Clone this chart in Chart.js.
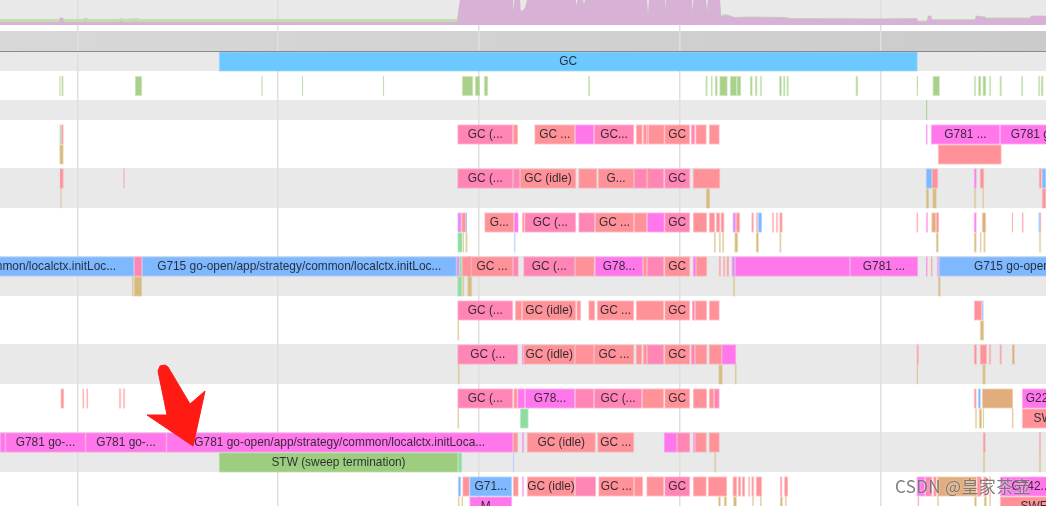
<!DOCTYPE html>
<html>
<head>
<meta charset="utf-8">
<script src="https://cdn.jsdelivr.net/npm/chart.js@4/dist/chart.umd.js"></script>
<style>
  html, body { margin: 0; padding: 0; background: #fff; overflow: hidden; }
  canvas { display: block; filter: blur(0.3px); }
</style>
</head>
<body>
<canvas id="trace" width="1046" height="506"></canvas>
<script>
// time axis reference lines
const gridTimes = [77.5, 278, 478.7, 680, 881];

// goroutine counter at the top of the trace
const counterTimes = [0, 59, 60, 63, 64, 83, 84, 87, 88, 119, 121, 124, 126, 137, 139, 457, 458.5, 460, 513, 513.5, 514.5, 520, 520.5, 522, 525, 527, 575.5, 576.5, 577.5, 583, 584, 585, 647, 648, 649, 665, 665.5, 666, 692, 692.5, 693.5, 706, 707, 708, 720, 721, 726, 735, 750, 785, 790, 880, 917, 918, 927, 928, 931, 932, 975, 976, 985, 986, 1030, 1031, 1046];
const counterRunning = [3, 3, 7, 7, 3, 3, 3.5, 3.5, 3, 3, 4, 3, 3, 3.5, 3, 3, 15, 25, 25, 13, 25, 25, 15, 14, 17, 25, 25, 20, 25, 25, 20, 25, 25, 9, 25, 25, 15, 25, 25, 13, 25, 25, 13, 25, 25, 9, 10, 7.5, 8, 7.5, 6.5, 6, 6.5, 3.5, 3.5, 9, 9, 5, 5, 9, 8, 6.7, 6.7, 9, 9];
const counterRunnable = [6, 6, 7.5, 7.5, 6, 6, 7, 7, 6, 6, 7, 6, 6, 7, 6, 6, 15, 25, 25, 13, 25, 25, 15, 14, 17, 25, 25, 20, 25, 25, 20, 25, 25, 9, 25, 25, 15, 25, 25, 13, 25, 25, 13, 25, 25, 10, 11, 8, 8.5, 8, 7, 6.7, 7, 4.5, 4.5, 9.5, 9.5, 6, 6, 9.5, 8.5, 7.5, 7.5, 9.5, 9.5];

// spans per state: lane, start, end, optional title
const gcPhaseSpans = [['GC', 219, 917.5, 'GC']];

const sweepSpans = [
  ['Sweep', 59.5, 60.5], ['Sweep', 61.5, 63.5], ['Sweep', 135, 142], ['Sweep', 261.5, 262.5], ['Sweep', 302, 303], ['Sweep', 383, 384],
  ['Sweep', 462, 473], ['Sweep', 475, 480], ['Sweep', 484, 488], ['Sweep', 588.3, 590], ['Sweep', 705.5, 707.5], ['Sweep', 711, 712.5],
  ['Sweep', 715, 717.5], ['Sweep', 719.5, 727.5], ['Sweep', 730, 736.7], ['Sweep', 736.7, 741], ['Sweep', 750, 752.5], ['Sweep', 755, 757.3],
  ['Sweep', 760, 762], ['Sweep', 779.3, 781.7], ['Sweep', 783.3, 785.3], ['Sweep', 786.7, 788.7], ['Sweep', 855.7, 858], ['Sweep', 916.7, 918],
  ['Sweep', 932.7, 939.7], ['Sweep', 974, 976], ['Sweep', 978.3, 981], ['Sweep', 982.7, 986], ['Sweep', 989.3, 991], ['Sweep', 999.7, 1001.7],
  ['Sweep', 1021.3, 1023], ['Sweep', 1038.3, 1040], ['Sweep', 1041, 1043.3]
];
const assistSpans = [['Assist', 926, 927.3]];

const gcIdleSpans = [
  ['P0', 61, 63.5], ['P0', 513, 518], ['P0', 534.5, 575, 'GC ...'], ['P0', 636, 642.5], ['P0', 643, 647], ['P0', 648, 664.5], ['P0', 664.5, 690, 'GC'], ['P0', 695.5, 706.5], ['P0', 709, 719.5],
  ['S0', 938, 1001.5],
  ['P1', 60, 63.5], ['P1', 123.5, 124.5], ['P1', 520, 576, 'GC (idle)'], ['P1', 578.5, 597], ['P1', 598, 634, 'G...'], ['P1', 647, 650], ['P1', 693, 720], ['P1', 932, 938], ['P1', 980, 984], ['P1', 1039, 1041.5],
  ['S1', 1042, 1046],
  ['P2', 461.5, 466], ['P2', 484.5, 514, 'G...'], ['P2', 522, 524.5], ['P2', 595, 634, 'GC ...'], ['P2', 634, 647], ['P2', 693, 707], ['P2', 709, 715], ['P2', 716, 720], ['P2', 720.7, 724.3], ['P2', 736, 740], ['P2', 751.5, 753.7], ['P2', 756, 758], ['P2', 772, 774], ['P2', 776, 778], ['P2', 779.5, 782.5], ['P2', 916.5, 918], ['P2', 936, 939], ['P2', 1012, 1013], ['P2', 1022, 1023.5], ['P2', 1040, 1041],
  ['P3', 462, 471], ['P3', 471, 513, 'GC ...'], ['P3', 575, 594.5], ['P3', 643, 647], ['P3', 664.5, 690, 'GC'], ['P3', 696, 707], ['P3', 719, 720.7], ['P3', 723.3, 725], ['P3', 726.7, 729], ['P3', 931, 932.5],
  ['P4', 515, 522], ['P4', 522, 576, 'GC (idle)'], ['P4', 576.5, 581], ['P4', 588.5, 595], ['P4', 597, 634, 'GC ...'], ['P4', 636, 664], ['P4', 664.5, 690, 'GC'], ['P4', 695, 707], ['P4', 709, 719.5], ['P4', 974, 982],
  ['P5', 523.5, 575, 'GC (idle)'], ['P5', 575, 594], ['P5', 594, 634, 'GC ...'], ['P5', 636, 642], ['P5', 643, 647], ['P5', 664.5, 690, 'GC'], ['P5', 695, 707], ['P5', 709, 721.7], ['P5', 916.7, 918.7], ['P5', 974, 976.7], ['P5', 980, 986.7], ['P5', 989, 991], ['P5', 999.7, 1001.7],
  ['P6', 60.7, 64], ['P6', 82.5, 84], ['P6', 86.5, 88], ['P6', 119, 121], ['P6', 123, 125], ['P6', 513.5, 517.5], ['P6', 642, 664], ['P6', 664.5, 690, 'GC'], ['P6', 693, 707], ['P6', 709, 714], ['P6', 974, 976.5], ['S6', 1022, 1082, 'SWE...'],
  ['P7', 513, 518], ['P7', 527, 595.5, 'GC (idle)'], ['P7', 597.5, 634, 'GC ...'], ['P7', 695, 706.5], ['P7', 709, 719.5], ['P7', 983, 985.5], ['P7', 1039, 1041],
  ['P8', 462.5, 469.5], ['P8', 513, 518.5], ['P8', 527, 575, 'GC (idle)'], ['P8', 598.5, 634, 'GC ...'], ['P8', 634, 643], ['P8', 646.5, 664], ['P8', 693, 706.5], ['P8', 708, 727], ['P8', 732.7, 737], ['P8', 738, 741], ['P8', 742, 745], ['P8', 748.3, 750], ['P8', 751.5, 754], ['P8', 756, 762], ['P8', 780, 782.3], ['P8', 784.3, 788], ['P8', 933.3, 936.7], ['P8', 977.3, 981.7], ['P8', 983.3, 986.7], ['P8', 989.3, 990.7],
  ['S8', 917.7, 919], ['S8', 1000, 1078, 'SWE...']
];

const gcMarkSpans = [
  ['P0', 457.5, 513, 'GC (...'], ['P0', 594, 634, 'GC...'], ['P0', 647, 648], ['P0', 691, 695],
  ['P1', 60, 61], ['P1', 457.5, 513, 'GC (...'], ['P1', 513, 520], ['P1', 634, 647], ['P1', 648, 664], ['P1', 664.5, 690, 'GC'],
  ['P2', 524.5, 576, 'GC (...'], ['P2', 578.5, 595], ['P2', 664.5, 690, 'GC'],
  ['P3', 134, 142], ['P3', 513, 518.5], ['P3', 523.5, 575, 'GC (...'], ['P3', 647, 664],
  ['P4', 457.5, 513, 'GC (...'], ['P4', 692, 695],
  ['P5', 457.5, 518, 'GC (...'], ['P5', 647, 664], ['P5', 691, 695],
  ['P6', 457.5, 513, 'GC (...'], ['P6', 575, 594], ['P6', 594, 642, 'GC (...'], ['P6', 714, 719.5],
  ['P7', 677, 690],
  ['P8', 575, 596], ['P8', 664.5, 690, 'GC'], ['P8', 925, 932.3], ['P8', 977.3, 979]
];

const runningSpans = [
  ['P0', 575, 594], ['P0', 926, 927.5], ['P0', 931, 1000, 'G781 ...'], ['P0', 1000, 1124, 'G781 go-open/ap...'],
  ['P1', 974, 976.5],
  ['P2', 514, 518.5], ['P2', 647, 664.5], ['P2', 926, 928], ['P2', 974, 976.5],
  ['P3', 467.5, 471], ['P3', 595, 643, 'G78...'], ['P3', 693, 696], ['P3', 735, 850], ['P3', 850, 918, 'G781 ...'], ['P3', 926, 927.5],
  ['P5', 522, 523.5], ['P5', 721.7, 736],
  ['P6', 517.5, 525], ['P6', 525, 575, 'G78...'], ['P6', 1022, 1062, 'G22...'],
  ['P7', 0, 5.5], ['P7', 5.5, 85.5, 'G781 go-...'], ['P7', 85.5, 166.5, 'G781 go-...'], ['P7', 166.5, 513, 'G781 go-open/app/strategy/common/localctx.initLoca...'], ['P7', 522, 524], ['P7', 664, 677], ['P7', 693, 695],
  ['P8', 522, 524], ['P8', 916.7, 925], ['P8', 1000, 1062, 'G742...'],
  ['S8', 469.5, 512, 'M...']
];

const blockedSpans = [
  ['P1', 926, 932], ['P1', 1042, 1046],
  ['P2', 466, 467], ['P2', 758, 762], ['P2', 1038.5, 1040],
  ['P3', -186, 134, 'G715 go-open/app/strategy/common/localctx.initLoc...'], ['P3', 142, 456.5, 'G715 go-open/app/strategy/common/localctx.initLoc...'], ['P3', 939, 1293, 'G715 go-open/app/strategy/common/localctx.initLoc...'],
  ['P4', 982, 983.5],
  ['P6', 978, 980.7],
  ['P8', 458, 461], ['P8', 469.5, 512, 'G71...']
];

const assistPurpleSpans = [
  ['P2', 457.5, 461.5], ['P2', 732.7, 736],
  ['P3', 456.5, 459.5], ['P3', 731.7, 735], ['P3', 937, 939]
];

const syscallSpans = [
  ['S0', 59.5, 63.5],
  ['S1', 60.5, 61.5], ['S1', 706, 710], ['S1', 926, 929], ['S1', 932.5, 936.5], ['S1', 974, 976], ['S1', 982.5, 983.7],
  ['S2', 463, 464], ['S2', 465.5, 467.5], ['S2', 714, 715.7], ['S2', 719, 720.7], ['S2', 722.3, 724], ['S2', 734.5, 738], ['S2', 756, 758.7], ['S2', 779.5, 781.3], ['S2', 936, 938.5], ['S2', 974, 976.5], ['S2', 980, 981.5], ['S2', 983.5, 985.5], ['S2', 1039, 1041],
  ['S3', 132, 133.5], ['S3', 134, 142], ['S3', 462.5, 464], ['S3', 467.5, 472], ['S3', 733, 735], ['S3', 938, 940.5],
  ['S4', 457.5, 459], ['S4', 980, 984],
  ['S5', 458, 459.5], ['S5', 718.5, 722.5], ['S5', 735, 736.5], ['S5', 916.7, 918], ['S5', 982.5, 985.5],
  ['S6', 457.5, 459], ['S6', 975, 977], ['S6', 979, 982], ['S6', 983, 984], ['S6', 1012, 1013.5],
  ['S7', 714.5, 716], ['S7', 983, 985], ['S7', 1039, 1041],
  ['S8', 458, 459.5], ['S8', 461.5, 463], ['S8', 718.3, 720.7], ['S8', 724, 726.7], ['S8', 733.3, 736.7], ['S8', 752.3, 753.7], ['S8', 760, 761.7], ['S8', 780, 782.7], ['S8', 785, 786.7], ['S8', 937.3, 938.7], ['S8', 974.3, 976.7], ['S8', 984, 986.7], ['S8', 989.3, 990.7]
];

const netBlockSpans = [
  ['P2', 982, 986], ['P2', 931.5, 936],
  ['P5', 1012, 1014.7],
  ['P6', 982, 1013],
  ['P8', 937.3, 976.7]
];

const stwSpans = [['S7', 219, 458, 'STW (sweep termination)']];

const gcWorkerSpans = [
  ['P0', 59.5, 61],
  ['S2', 457.5, 462.5],
  ['P3', 459.5, 462], ['S3', 457.5, 462],
  ['S6', 520, 528.5],
  ['S7', 458, 462]
];

const paleBlueSpans = [['S2', 514, 515.5], ['S7', 513, 514]];

const arrowOutline = [[158, 371], [160, 366], [165, 365], [168, 367], [190, 404], [205, 391], [193, 446], [147, 415], [167, 415]];
const watermark = 'CSDN @皇家茶壶';

// layout of the lanes on the y axis
const laneY = { GC: 61.5, Sweep: 86, Assist: 110 };
for (let i = 0; i < 9; i++) {
    laneY['P' + i] = 134.5 + 44 * i;
    laneY['S' + i] = 154.5 + 44 * i;
}
const greyBands = [[0, 25], [52, 71], [100, 120], [168, 208], [256, 296], [344, 384], [432, 472]];

function spanDataset(label, color, spans) {
    return {
        type: 'bar',
        label,
        backgroundColor: color,
        borderColor: color + '70',
        borderWidth: 1,
        borderSkipped: false,
        barThickness: 20,
        grouped: false,
        yAxisID: 'y',
        data: spans.map(([lane, start, end, title]) => ({ x: [start, end], y: laneY[lane], title })),
    };
}

function counterDataset(label, color, values, order) {
    return {
        type: 'line',
        label,
        indexAxis: 'x',
        yAxisID: 'yCounter',
        order,
        fill: 'origin',
        backgroundColor: color,
        borderWidth: 0,
        pointRadius: 0,
        tension: 0,
        data: counterTimes.map((t, i) => ({ x: t, y: values[i] })),
    };
}

const lanePainter = {
    id: 'lanePainter',
    beforeDraw(chart) {
        const { ctx, chartArea, scales: { y } } = chart;
        ctx.save();
        ctx.fillStyle = '#e9e9e9';
        greyBands.forEach(([top, bottom]) => {
            ctx.fillRect(chartArea.left, y.getPixelForValue(top), chartArea.width, y.getPixelForValue(bottom) - y.getPixelForValue(top));
        });
        // ruler strip
        const ruler = ctx.createLinearGradient(chartArea.left, 0, chartArea.right, 0);
        ruler.addColorStop(0, '#d8d8d8');
        ruler.addColorStop(1, '#cbcbcb');
        ctx.fillStyle = ruler;
        ctx.fillRect(chartArea.left, y.getPixelForValue(31), chartArea.width, 20);
        ctx.restore();
    },
    afterDatasetsDraw(chart) {
        const { ctx, chartArea, scales: { x, y } } = chart;
        ctx.save();
        ctx.fillStyle = '#8a8a8a';
        ctx.fillRect(chartArea.left, y.getPixelForValue(51), chartArea.width, 1);

        ctx.font = '11.9px "Liberation Sans", Arial, sans-serif';
        ctx.textAlign = 'center';
        ctx.textBaseline = 'middle';
        ctx.fillStyle = 'rgba(30,30,40,0.9)';
        chart.data.datasets.forEach((ds, di) => {
            if (ds.type !== 'bar') return;
            chart.getDatasetMeta(di).data.forEach((bar, i) => {
                const title = ds.data[i].title;
                if (title) ctx.fillText(title, (bar.x + bar.base) / 2, bar.y);
            });
        });

        // the red arrow added on the screenshot
        ctx.fillStyle = '#ff1a14';
        ctx.strokeStyle = '#ff1a14';
        ctx.lineJoin = 'round';
        ctx.lineWidth = 1;
        ctx.beginPath();
        arrowOutline.forEach(([t, v], i) => {
            if (i === 0) ctx.moveTo(x.getPixelForValue(t), y.getPixelForValue(v));
            else ctx.lineTo(x.getPixelForValue(t), y.getPixelForValue(v));
        });
        ctx.closePath();
        ctx.fill();
        ctx.stroke();

        // watermark
        ctx.font = '17px "Noto Sans CJK SC", sans-serif';
        ctx.letterSpacing = '0.35px';
        ctx.textAlign = 'left';
        ctx.textBaseline = 'alphabetic';
        ctx.shadowColor = 'rgba(255,255,255,0.9)';
        ctx.shadowBlur = 2;
        ctx.fillStyle = 'rgba(105,105,105,0.85)';
        ctx.fillText(watermark, 895, 493);
        ctx.restore();
    },
};

new Chart(document.getElementById('trace'), {
    type: 'bar',
    data: {
        datasets: [
            counterDataset('Running', '#d8b2d6', counterRunning, 1),
            counterDataset('Runnable', '#c5dcae', counterRunnable, 2),
            spanDataset('GC phase', '#6cc9ff', gcPhaseSpans),
            spanDataset('Sweep', '#a9d18a', sweepSpans),
            spanDataset('Assist', '#9dce7f', assistSpans),
            spanDataset('STW', '#9dce7f', stwSpans),
            spanDataset('GC workers', '#8edc9f', gcWorkerSpans),
            spanDataset('Blocked', '#7eb8ff', blockedSpans),
            spanDataset('Pale blue', '#a8c8ff', paleBlueSpans),
            spanDataset('GC idle', '#ff9298', gcIdleSpans),
            spanDataset('GC mark', '#ff85b5', gcMarkSpans),
            spanDataset('Running G', '#ff77ea', runningSpans),
            spanDataset('Assist purple', '#e08cf0', assistPurpleSpans),
            spanDataset('Syscall', '#d7bb7d', syscallSpans),
            spanDataset('Net block', '#e2ad7d', netBlockSpans),
        ],
    },
    options: {
        indexAxis: 'y',
        responsive: false,
        animation: false,
        layout: { padding: 0 },
        plugins: { legend: { display: false }, tooltip: { enabled: false } },
        scales: {
            x: {
                type: 'linear',
                min: 0,
                max: 1046,
                offset: false,
                afterBuildTicks: (scale) => { scale.ticks = gridTimes.map(value => ({ value })); },
                ticks: { display: false, autoSkip: false },
                border: { display: false },
                grid: { color: '#dfdfdf', lineWidth: 1.5, drawTicks: false, offset: false },
            },
            y: { type: 'linear', min: 0, max: 506, reverse: true, display: false, offset: false },
            yCounter: { type: 'linear', min: -481, max: 25, display: false, offset: false },
        },
    },
    plugins: [lanePainter],
});
</script>
</body>
</html>
